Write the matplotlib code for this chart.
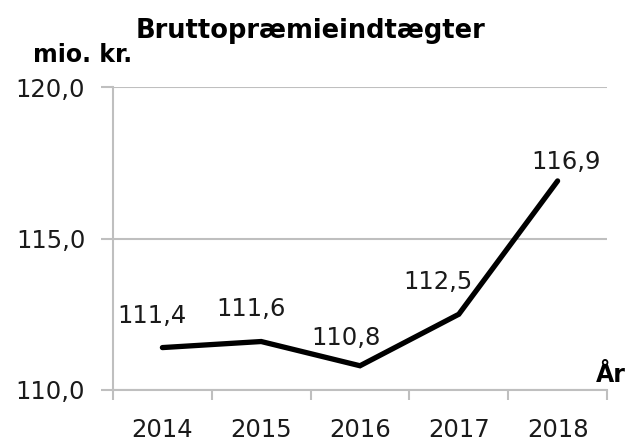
import matplotlib
matplotlib.use("Agg")
import matplotlib.pyplot as plt
from matplotlib.ticker import FixedLocator

years = ["2014", "2015", "2016", "2017", "2018"]
values = [111.4, 111.6, 110.8, 112.5, 116.9]
value_labels = ["111,4", "111,6", "110,8", "112,5", "116,9"]
y_ticks = [110.0, 115.0, 120.0]
y_tick_labels = ["110,0", "115,0", "120,0"]
title = "Bruttopræmieindtægter"
y_unit = "mio. kr."
x_unit = "År"

# label offsets in pixels (style only)
label_offsets = [(-10, 32), (-10, 33), (-14, 28), (-21, 32), (8, 19)]

FS = 17.5
plt.rcParams['font.family'] = ['DejaVu Sans']
fig = plt.figure(figsize=(6.25, 4.43), dpi=100)
ax = fig.add_axes([113/625, 1-390/443, (607-113)/625, (390-87)/443])

x = list(range(len(years)))
ax.plot(x, values, color="black", lw=3.8, solid_capstyle="round", solid_joinstyle="miter")

for xi, v, lab, off in zip(x, values, value_labels, label_offsets):
    ax.annotate(lab, (xi, v), xytext=off, textcoords="offset pixels",
                ha="center", va="center", fontsize=FS, color="#1a1a1a")

ax.set_xlim(-0.5, len(years) - 0.5)
ax.set_ylim(110, 120)
ax.set_yticks(y_ticks)
ax.set_yticklabels(y_tick_labels, fontsize=FS, color="#1a1a1a")
ax.set_xticks(x)
ax.set_xticklabels(years, fontsize=FS, color="#1a1a1a")
ax.xaxis.set_minor_locator(FixedLocator([i - 0.5 for i in range(len(years) + 1)]))
ax.tick_params(axis="x", which="major", length=0, pad=20)
ax.tick_params(axis="x", which="minor", length=7, width=1.5, color="#bfbfbf", direction="out")
ax.tick_params(axis="y", which="major", length=9, width=1.5, color="#bfbfbf", pad=11)

ax.grid(axis="y", color="#bfbfbf", lw=1.5)
ax.set_axisbelow(True)
for s in ["top", "right"]:
    ax.spines[s].set_visible(False)
ax.spines["left"].set_color("#bfbfbf")
ax.spines["left"].set_linewidth(1.5)
ax.spines["bottom"].set_color("#bfbfbf")
ax.spines["bottom"].set_linewidth(1.5)

fig.text(311/625, 1-31/443, title, ha="center", va="center", fontsize=18.5, fontweight="bold")
fig.text(83/625, 1-55/443, y_unit, ha="center", va="center", fontsize=17, fontweight="bold")
fig.text(611/625, 1-375/443, x_unit, ha="center", va="center", fontsize=17, fontweight="bold")

fig.savefig("out.png", dpi=100)
